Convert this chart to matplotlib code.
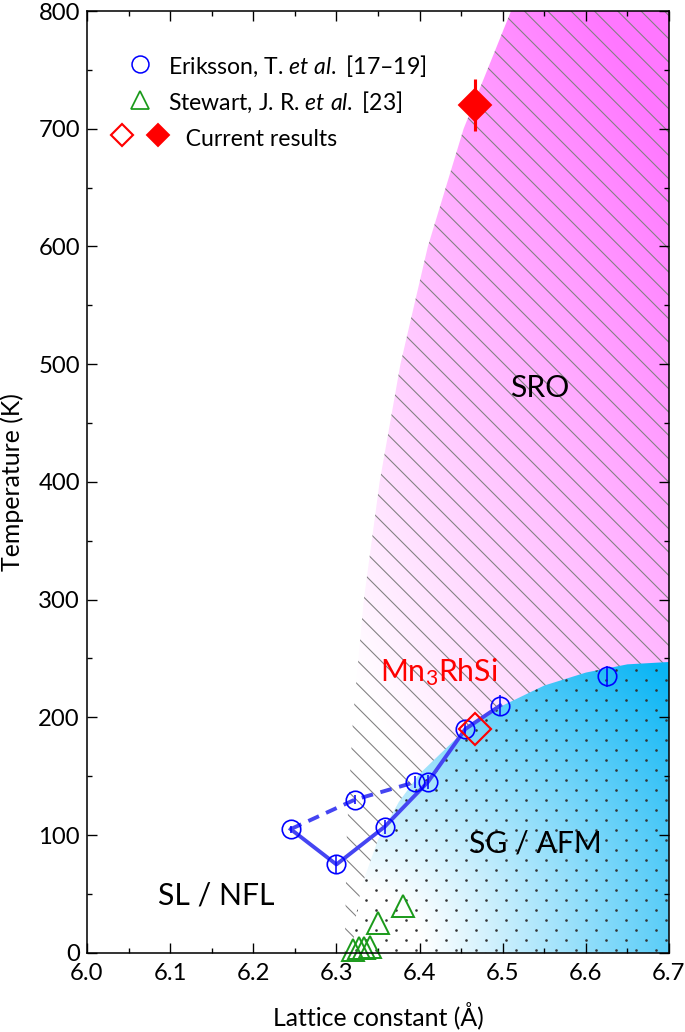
import numpy as np
import matplotlib
matplotlib.use('Agg')
import matplotlib.pyplot as plt
from matplotlib.patches import Polygon
from matplotlib.lines import Line2D
from matplotlib.legend_handler import HandlerTuple
from matplotlib.ticker import MultipleLocator, FormatStrFormatter

plt.rcParams['font.family'] = ['Lato', 'DejaVu Sans']
plt.rcParams['mathtext.fontset'] = 'custom'
plt.rcParams['mathtext.rm'] = 'Lato'
plt.rcParams['mathtext.it'] = 'Lato:italic'
plt.rcParams['mathtext.bf'] = 'Lato:bold'
plt.rcParams['hatch.linewidth'] = 0.55

# Eriksson, T. et al. (lattice constant in A, temperature in K)
a_erik = [6.245, 6.300, 6.322, 6.358, 6.395, 6.410, 6.455, 6.497, 6.625]
t_erik = [105, 75, 130, 107, 145, 145, 190, 210, 235]
e_erik = [3, 7, 4, 6, 5, 6, 5, 9, 9]
# solid and dashed guide lines through Eriksson points
a_solid = [6.245, 6.300, 6.358, 6.410, 6.455, 6.497]
t_solid = [105, 75, 107, 145, 190, 210]
a_dash = [6.245, 6.322, 6.395]
t_dash = [105, 130, 145]

# Stewart, J. R. et al.
a_stew = [6.320, 6.327, 6.333, 6.340, 6.350, 6.380]
t_stew = [2, 4, 4, 5, 25, 40]

# current results: open (SG/AFM) and filled (SRO)
a_cur = [6.467, 6.467]
t_cur = [190, 720]
e_cur = [0, 22]

# SRO region left boundary
sro_t = [0, 100, 200, 300, 400, 500, 600, 700, 800]
sro_a = [6.310, 6.3125, 6.320, 6.333, 6.352, 6.377, 6.410, 6.453, 6.510]

# SG / AFM region upper boundary
afm_a = [6.320, 6.322, 6.330, 6.350, 6.375, 6.400, 6.450, 6.500, 6.550, 6.600, 6.650, 6.700]
afm_t = [0, 25, 56, 96, 128, 152, 186, 210, 227, 238, 245, 247]

fig = plt.figure(figsize=(685/140, 1032/140), dpi=140)
ax = fig.add_axes([0.127, 0.0768, 0.8496, 0.9125])
ax.set_xlim(6.0, 6.7)
ax.set_ylim(0, 800)

# magenta gradient for SRO
xx, yy = np.meshgrid(np.linspace(6.0, 6.7, 350), np.linspace(0, 800, 800))
tm = np.clip(0.548*(xx-6.3)/0.4 + 0.845*yy/800 - 0.275, 0, 1)[..., None]
mag = (1-tm)*np.array([1.0, 1.0, 1.0]) + tm*np.array([1.0, 0.47, 1.0])
sro_verts = list(zip(sro_a, sro_t)) + [(6.7, 800), (6.7, 0)]
sro_clip = Polygon(sro_verts, closed=True, facecolor='none', edgecolor='none')
ax.add_patch(sro_clip)
im = ax.imshow(mag, extent=(6.0, 6.7, 0, 800), origin='lower', aspect='auto',
               interpolation='bilinear', zorder=0.5)
im.set_clip_path(sro_clip)
ax.add_patch(Polygon(sro_verts, closed=True, facecolor='none', edgecolor='0.5',
                     lw=0, hatch='\\\\', zorder=1))

# blue gradient for SG / AFM
u = (xx-6.32)/0.38
v = yy/247
r = np.sqrt(u**2 + v**2)
tb = np.clip((r-0.22)/(1.38-0.22), 0, 1)[..., None]
blu = (1-tb)*np.array([1.0, 1.0, 1.0]) + tb*np.array([0.04, 0.71, 0.96])
afm_verts = list(zip(afm_a, afm_t)) + [(6.7, 0)]
afm_clip = Polygon(afm_verts, closed=True, facecolor='none', edgecolor='none')
ax.add_patch(afm_clip)
im2 = ax.imshow(blu, extent=(6.0, 6.7, 0, 800), origin='lower', aspect='auto',
                interpolation='bilinear', zorder=1.5)
im2.set_clip_path(afm_clip)
# dot texture (staggered), clipped to the SG / AFM region
dx, dy = 0.02406, 8.5
gx, gy = np.meshgrid(np.arange(6.30, 6.72, dx), np.arange(2.0, 260, dy))
gx = gx + (np.arange(gy.shape[0]) % 2)[:, None]*dx/2
dots = ax.scatter(gx.ravel(), gy.ravel(), s=1.8, color='0.2', lw=0, zorder=1.6)
dots.set_clip_path(afm_clip)

line_c = (0.27, 0.27, 0.95)
ax.plot(a_solid, t_solid, '-', color=line_c, lw=2.0, zorder=3)
ax.plot(a_dash, t_dash, '--', color=line_c, lw=2.0, dashes=(3, 2), zorder=3)
ax.errorbar(a_erik, t_erik, yerr=e_erik, fmt='o', ms=9.5, mfc='none', mec='blue',
            mew=0.85, ecolor='blue', elinewidth=0.8, capsize=0, zorder=4)
green = '#1a9a1a'
ax.plot(a_stew, t_stew, '^', ms=11.5, mfc='none', mec=green, mew=1.0, zorder=4,
        clip_on=False)
ax.plot(a_cur[0], t_cur[0], 'D', ms=12, mfc='none', mec='red', mew=1.1, zorder=5)
ax.errorbar(a_cur[1], t_cur[1], yerr=e_cur[1], fmt='D', ms=12, color='red',
            elinewidth=1.6, capsize=0, zorder=5)

# region labels
ax.text(6.545, 480, 'SRO', fontsize=15.5, ha='center', va='center')
ax.text(6.539, 93, 'SG / AFM', fontsize=15.5, ha='center', va='center', zorder=6)
ax.text(6.156, 49, 'SL / NFL', fontsize=15.5, ha='center', va='center')
ax.text(6.352, 231, r'Mn$_3$RhSi', fontsize=15.5, color='red', ha='left',
        va='baseline', zorder=6)

# legend
h1 = Line2D([], [], ls='none', marker='o', ms=8.7, mfc='none', mec='blue', mew=0.8)
h2 = Line2D([], [], ls='none', marker='^', ms=9.5, mfc='none', mec=green, mew=0.9)
h3o = Line2D([], [], ls='none', marker='D', ms=8, mfc='none', mec='red', mew=1.1)
h3f = Line2D([], [], ls='none', marker='D', ms=8, color='red')
ax.legend([h1, h2, (h3o, h3f)],
          [r'Eriksson, T. $\mathit{et\ al.}$ [17–19]',
           r'Stewart, J. R. $\mathit{et\ al.}$ [23]',
           '   Current results'],
          handler_map={tuple: HandlerTuple(ndivide=None, pad=0.7)},
          loc='upper left', bbox_to_anchor=(0.043, 0.955), frameon=False,
          fontsize=11.8, handlelength=2.45, handleheight=1.4, handletextpad=0.0,
          borderpad=0, borderaxespad=0, labelspacing=0.4, numpoints=1)

ax.xaxis.set_major_locator(MultipleLocator(0.1))
ax.xaxis.set_minor_locator(MultipleLocator(0.05))
ax.yaxis.set_major_locator(MultipleLocator(100))
ax.yaxis.set_minor_locator(MultipleLocator(50))
ax.xaxis.set_major_formatter(FormatStrFormatter('%.1f'))
ax.tick_params(which='both', direction='in', top=True, right=True, labelsize=12.3,
               width=0.7)
ax.tick_params(which='major', length=5.1)
ax.tick_params(which='minor', length=2.6)
ax.tick_params(axis='y', pad=3.6)
ax.tick_params(axis='x', pad=5.5)
for s in ax.spines.values():
    s.set_linewidth(0.8)
    s.set_zorder(7)

ax.set_xlabel('Lattice constant (Å)', fontsize=12.8)
ax.set_ylabel('Temperature (K)', fontsize=12.8)
ax.xaxis.set_label_coords(0.5, -0.052)
ax.yaxis.set_label_coords(-0.108, 0.5)

fig.savefig('out.png', dpi=140)
